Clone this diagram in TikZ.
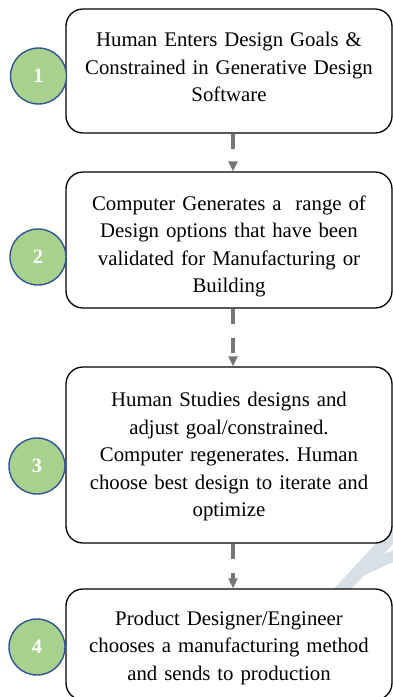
\documentclass[tikz,border=0pt]{standalone}
\usepackage{fontspec}
\setmainfont{Liberation Serif}
\usetikzlibrary{arrows.meta}
\definecolor{stepgreen}{RGB}{169,209,142}
\definecolor{stepblue}{RGB}{47,85,151}
\definecolor{flowgray}{RGB}{118,118,118}
\definecolor{markgray}{RGB}{216,223,229}
\frenchspacing

\begin{document}
\begin{tikzpicture}[x = 1pt, y = -1pt,
  stepbox/.style = {draw, fill = white, line width = 1.3pt, rounded corners = 17pt, minimum width = 326pt, text width = 310pt, align = center, inner sep = 0pt, text height = 15pt, font = \fontsize{20.8}{27.5}\selectfont},
  stepnum/.style = {circle, draw = stepblue, fill = stepgreen, line width = 1.4pt, minimum size = 56pt, inner sep = 0pt, text = white, font = \fontsize{20.5}{24}\selectfont\bfseries},
  flow/.style = {draw = flowgray, line width = 3.5pt, dash pattern = on 15pt off 14pt, -{Triangle[width = 9pt, length = 10pt]}}]
\useasboundingbox (0,0) rectangle (393,697);
\draw[markgray, line width = 13pt] (336,596) -- (400,527);
\draw[markgray, line width = 11pt] (360,571) -- (400,553);
\node[stepbox, minimum height = 124pt, text depth = 63.6pt] (b1) at (229,71) {Human Enters Design Goals \&\\Constrained in Generative Design\\Software};
\node[stepbox, minimum height = 136pt, text depth = 75pt] (b2) at (229,240) {Computer Generates a~ range of\\Design options that have been\\validated for Manufacturing or\\Building};
\node[stepbox, minimum height = 176pt, text depth = 111.6pt] (b3) at (229,455) {Human Studies designs and\\adjust goal/constrained.\\Computer regenerates. Human\\choose best design to iterate and\\optimize};
\node[stepbox, minimum height = 111pt, text depth = 54pt] (b4) at (229,644.5) {Product Designer/Engineer\\chooses a manufacturing method\\and sends to production};
\node[stepnum] (n1) at (38.5,76) {1};
\node[stepnum] (n2) at (38,257) {2};
\node[stepnum] (n3) at (37,466) {3};
\node[stepnum] (n4) at (37,647) {4};
\draw[flow] ([xshift = 4pt]b1.south) -- ([xshift = 4pt]b2.north);
\draw[flow] ([xshift = 4pt]b2.south) -- ([xshift = 4pt]b3.north);
\draw[flow] ([xshift = 4pt]b3.south) -- ([xshift = 4pt]b4.north);
\end{tikzpicture}
\end{document}
